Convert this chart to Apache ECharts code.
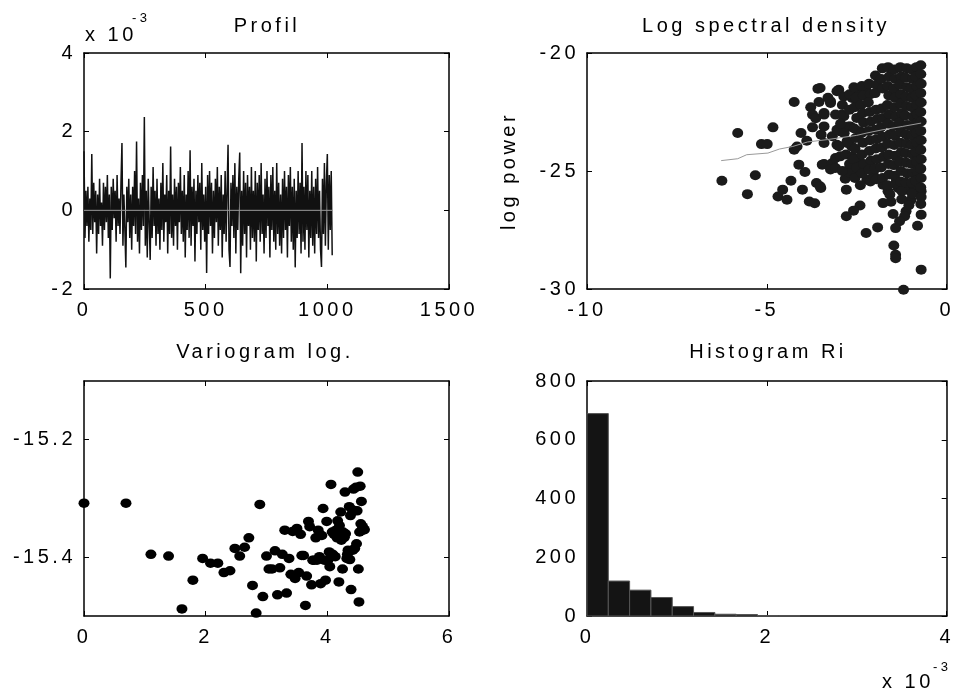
<!DOCTYPE html>
<html>
<head>
<meta charset="utf-8">
<script src="https://cdn.jsdelivr.net/npm/echarts@6/dist/echarts.min.js"></script>
<style>html,body{margin:0;padding:0;background:#fff}#c{width:957px;height:690px}</style>
</head>
<body>
<div id="c"></div>
<script>
// ---------- DATA ----------
// Profil (x10^-3), sampled every profileStep points
const profileStep = 4;
const profileMean = 0;
const profileValues = [
 1.5,-0.7,0.5,-0.4,0.6,-0.8,0.3,-0.5,1.43,-0.6,0.7,-0.3,0.5,-1.1,0.4,-0.6,
 0.8,-0.4,0.2,-0.9,0.7,-0.5,0.6,-0.3,0.9,-0.7,0.4,-1.73,0.6,-0.5,0.8,-0.2,
 0.5,-0.8,0.9,-0.4,0.3,-0.6,0.7,1.71,-0.9,0.4,-0.5,-1.45,0.6,-0.3,0.8,-0.7,
 0.4,-1.0,0.6,-0.4,1.0,-0.6,1.75,-0.8,0.3,-1.1,0.7,-0.5,0.9,-0.4,2.37,-0.9,
 0.5,-1.2,0.8,-0.3,-1.26,0.6,-0.7,1.1,-0.4,0.5,-0.9,0.8,-0.6,0.3,-1.0,0.7,
 -0.5,1.2,-0.8,0.4,-0.3,0.9,-1.1,0.5,-0.6,1.62,-0.7,0.4,-0.9,0.8,-0.4,0.6,
 -1.0,0.7,-0.3,1.1,-0.6,0.5,-0.8,0.9,-1.2,0.4,-0.5,1.0,-0.7,1.53,-0.9,0.6,
 -0.4,0.8,-1.3,0.5,-0.6,0.9,-0.3,0.7,-1.0,1.2,-0.5,0.4,-0.8,0.6,-1.59,0.9,
 -0.6,1.0,-0.4,0.7,-1.1,0.5,-0.7,0.8,-0.3,1.1,-0.9,0.6,-0.5,0.9,-1.2,0.4,
 -0.6,1.0,-0.8,0.5,1.67,-1.0,-1.44,0.7,-0.4,0.9,-0.7,1.2,-1.1,0.6,-0.5,0.8,
 1.47,-1.6,0.5,-0.9,1.0,-0.6,0.7,-1.2,0.9,-0.4,0.6,-1.0,1.1,-0.7,0.5,-0.8,
 1.0,-1.3,0.7,-0.5,0.9,-0.8,1.2,-0.6,0.4,-1.1,0.8,-0.7,1.0,-0.4,0.6,-1.2,
 0.9,-0.5,1.1,-0.8,0.5,-1.0,1.2,-0.6,0.7,-0.9,0.4,-1.1,0.8,-0.7,1.0,-0.5,
 0.6,-1.2,0.9,-0.4,1.1,-0.8,0.6,-1.0,0.8,-1.45,0.5,-0.7,1.0,-0.6,0.7,-1.1,
 1.71,-0.8,0.6,-1.0,1.0,-0.5,0.9,-1.2,0.5,-0.7,1.0,-0.9,0.6,-1.1,0.8,-0.6,
 1.1,-0.7,0.5,-1.0,-1.44,0.8,-0.6,1.2,-0.9,0.7,1.43,-1.0,0.9,-0.5,1.0,-1.14
];

// Log spectral density: [log frequency, log power]
const specPoints = [
 [-6.25,-25.41],[-5.81,-23.39],[-5.54,-25.98],[-5.32,-25.18],[-5.15,-23.86],[-4.99,-23.86],[-4.83,-23.15],
 [-4.69,-26.08],[-4.56,-25.79],[-4.44,-26.22],[-4.33,-25.41],[-4.24,-22.08],[-4.16,-23.96],[-4.24,-24.1],
 [-4.11,-24.73],[-4.05,-23.39],[-4.01,-25.79],[-3.94,-25.04],[-3.82,-26.29],[-3.67,-26.37],[-3.78,-22.3],
 [-3.73,-22.61],[-3.64,-22.76],[-3.73,-23.15],[-3.58,-21.51],[-3.62,-25.51],[-3.5,-25.72],[-3.55,-22.08],
 [-3.46,-24.73],[-3.49,-23.46],[-3.41,-23.81],[-3.41,-22.54],[-3.89,-23.72],
 [-3.52,-21.48],[-3.0,-21.56],[-3.23,-22.05],[-3.41,-22.61],[-2.91,-22.61],[-3.41,-23.11],[-3.18,-23.53],
 [-2.96,-23.32],[-2.68,-23.11],[-2.41,-23.32],[-3.05,-23.89],[-2.77,-23.74],[-2.64,-23.96],[-3.41,-24.7],
 [-3.18,-24.66],[-3.09,-24.45],[-3.23,-24.94],[-3.52,-25.65],[-2.77,-25.0],[-2.82,-25.33],[-2.64,-25.09],
 [-2.79,-25.79],[-2.45,-24.59],[-2.32,-24.73],[-2.22,-25.37],[-2.12,-25.44],[-2.03,-25.2],[-1.77,-25.58],
 [-1.63,-25.86],[-1.4,-25.44],[-1.35,-25.72],[-1.13,-25.79],[-0.71,-25.86],[-0.99,-26.22],[-1.77,-26.36],
 [-1.58,-26.0],[-2.41,-26.46],[-2.59,-26.68],[-2.79,-26.92],[-1.49,-26.82],[-1.13,-26.71],[-1.17,-26.92],
 [-0.71,-26.85],[-1.31,-27.13],[-1.42,-27.42],[-0.81,-27.32],[-2.24,-27.63],[-1.92,-27.39],[-1.47,-28.16],
 [-1.42,-28.55],[-1.42,-28.7],[-0.71,-29.18],[-1.2,-30.03],
 [-3.23,-22.12],[-3.05,-21.62],[-2.86,-21.84],[-2.63,-21.91],[-2.5,-21.98],[-3.09,-22.61],[-2.86,-22.68],
 [-2.73,-23.11],[-3.05,-23.25],[-2.77,-23.81],[-3.0,-23.95],[-2.96,-24.38],[-3.09,-24.87],[-2.68,-25.08],
 [-2.59,-24.66],[-2.45,-24.59],[-2.9,-22.2],[-2.7,-22.4],[-2.8,-24.3],[-2.62,-24.4],[-2.9,-25.0],
 [-2.45,-21.7],[-2.25,-21.5],[-2.7,-21.75],[-3.3,-21.9],[-2.95,-23.0],[-2.85,-23.4],[-2.7,-24.7],
 [-2.55,-25.3],[-2.4,-25.6],[-1.55,-26.3],[-1.25,-26.2],[-0.9,-25.8],[-1.05,-26.45],
 [-2.58,-21.45],[-2.52,-21.9],[-2.56,-22.3],[-2.5,-22.75],[-2.57,-23.2],[-2.53,-23.6],[-2.55,-24.05],[-2.6,-24.5],[-2.5,-24.85],
 [-2.36,-21.4],[-2.32,-21.8],[-2.38,-22.2],[-2.34,-22.55],[-2.31,-22.95],[-2.37,-23.4],[-2.33,-23.8],[-2.36,-24.3],[-2.3,-24.7],[-2.35,-25.1],
 [-2.16,-21.3],[-2.12,-21.75],[-2.18,-22.1],[-2.14,-22.5],[-2.11,-22.9],[-2.17,-23.3],[-2.13,-23.7],[-2.15,-24.15],[-2.1,-24.55],[-2.16,-24.95],
 [-1.98,-20.95],[-1.95,-21.35],[-1.99,-21.7],[-1.96,-22.4],[-1.93,-22.8],[-1.98,-23.25],[-1.95,-23.65],[-1.97,-24.05],[-1.94,-24.5],[-1.99,-24.9],[-1.96,-25.35],
 [-1.79,-20.65],[-1.82,-21.1],[-1.78,-21.5],[-1.81,-22.35],[-1.77,-22.75],[-1.83,-23.15],[-1.79,-23.55],[-1.8,-24.0],[-1.76,-24.4],[-1.82,-24.85],[-1.78,-25.3],
 [-1.63,-20.6],[-1.6,-21.0],[-1.64,-21.4],[-1.61,-21.8],[-1.65,-22.2],[-1.6,-22.6],[-1.63,-23.0],[-1.59,-23.45],[-1.64,-23.85],[-1.61,-24.3],[-1.62,-24.7],[-1.6,-25.15],[-1.65,-25.6],
 [-1.46,-20.7],[-1.43,-21.1],[-1.47,-21.5],[-1.44,-21.9],[-1.45,-22.3],[-1.42,-22.7],[-1.48,-23.1],[-1.44,-23.5],[-1.46,-23.9],[-1.43,-24.35],[-1.47,-24.75],[-1.45,-25.2],[-1.42,-25.55],
 [-1.29,-20.6],[-1.26,-21.0],[-1.3,-21.35],[-1.27,-21.75],[-1.28,-22.15],[-1.25,-22.55],[-1.31,-22.95],[-1.27,-23.35],[-1.29,-23.8],[-1.26,-24.2],[-1.3,-24.6],[-1.27,-25.0],[-1.28,-25.45],[-1.25,-25.85],
 [-1.11,-20.65],[-1.14,-21.05],[-1.1,-21.45],[-1.13,-21.85],[-1.12,-22.25],[-1.15,-22.65],[-1.1,-23.05],[-1.13,-23.45],[-1.11,-23.85],[-1.14,-24.25],[-1.12,-24.65],[-1.1,-25.1],[-1.13,-25.5],
 [-0.98,-20.7],[-0.95,-21.1],[-0.99,-21.5],[-0.96,-21.9],[-0.97,-22.3],[-0.94,-22.7],[-0.99,-23.1],[-0.96,-23.5],[-0.98,-23.9],[-0.95,-24.3],[-0.97,-24.7],[-0.94,-25.1],[-0.98,-25.5],[-0.96,-25.95],
 [-0.84,-20.6],[-0.86,-21.0],[-0.83,-21.4],[-0.85,-21.8],[-0.84,-22.2],[-0.82,-22.6],[-0.86,-23.0],[-0.84,-23.4],[-0.83,-23.8],[-0.85,-24.2],[-0.84,-24.6],[-0.82,-25.0],[-0.86,-25.4],
 [-0.72,-20.52],[-0.72,-20.9],[-0.71,-21.3],[-0.72,-21.7],[-0.71,-22.1],[-0.72,-22.5],[-0.71,-22.9],[-0.72,-23.3],[-0.71,-23.7],[-0.72,-24.1],[-0.71,-24.5],[-0.72,-24.9],[-0.71,-25.3],[-0.72,-25.7],[-0.71,-26.1],[-0.72,-26.4]
];
// Smoothed fit line
const specFit = [[-6.27,-24.56],[-5.81,-24.48],[-5.56,-24.31],[-4.97,-24.24],[-4.65,-24.07],[-4.28,-23.96],
 [-3.87,-23.77],[-3.32,-23.67],[-2.5,-23.49],[-2.22,-23.39],[-1.77,-23.25],[-1.22,-23.11],[-0.71,-22.97]];

// Variogram log.
const varX = [0,0.69,1.1,1.39,1.61,1.79,1.95,2.08,2.2,2.3,2.4,2.48,2.56,2.64,2.71,2.77,2.83,2.89,2.94,3.0,
 3.04,3.09,3.14,3.18,3.22,3.26,3.3,3.33,3.37,3.4,3.43,3.47,3.5,3.53,3.56,3.58,3.61,3.64,3.66,3.69,
 3.71,3.74,3.76,3.78,3.81,3.83,3.85,3.87,3.89,3.91,3.93,3.95,3.97,3.99,4.01,4.03,4.04,4.06,4.08,4.09,
 4.11,4.13,4.14,4.16,4.17,4.19,4.2,4.22,4.23,4.25,4.26,4.28,4.29,4.3,4.32,4.33,4.34,4.36,4.37,4.38,
 4.39,4.41,4.42,4.43,4.44,4.45,4.47,4.48,4.49,4.5,4.51,4.52,4.53,4.54,4.55,4.56,4.57,4.58,4.6,4.61];
const varY = [-15.308,-15.308,-15.395,-15.398,-15.488,-15.439,-15.402,-15.410,-15.410,-15.426,
 -15.423,-15.385,-15.398,-15.383,-15.367,-15.448,-15.495,-15.310,-15.467,-15.398,
 -15.420,-15.420,-15.389,-15.464,-15.418,-15.395,-15.354,-15.461,-15.402,-15.429,
 -15.356,-15.436,-15.351,-15.426,-15.361,-15.397,-15.397,-15.482,-15.432,-15.339,
 -15.348,-15.447,-15.405,-15.405,-15.367,-15.405,-15.354,-15.399,-15.445,-15.363,
 -15.317,-15.405,-15.439,-15.339,-15.405,-15.391,-15.416,-15.276,-15.357,-15.395,
 -15.361,-15.399,-15.354,-15.367,-15.338,-15.442,-15.346,-15.323,-15.371,-15.420,
 -15.357,-15.366,-15.289,-15.360,-15.402,-15.395,-15.388,-15.314,-15.404,-15.329,
 -15.455,-15.319,-15.388,-15.284,-15.321,-15.385,-15.281,-15.377,-15.321,-15.255,
 -15.420,-15.476,-15.357,-15.279,-15.343,-15.305,-15.354,-15.348,-15.353,-15.353];

// Histogram Ri (x10^-3)
const histEdges = [0,0.237,0.474,0.711,0.948,1.185,1.422,1.659,1.896,2.133,2.37];
const histCounts = [689,119,88,63,32,12,6,5,1,1];

// ---------- letter spacing (text look of the reference) ----------
(function(){
  const P = CanvasRenderingContext2D.prototype;
  if (!('letterSpacing' in P)) return;
  const LS = '3.5px';
  const ft = P.fillText, st = P.strokeText, mt = P.measureText;
  P.fillText = function(){ this.letterSpacing = LS; return ft.apply(this, arguments); };
  P.strokeText = function(){ this.letterSpacing = LS; return st.apply(this, arguments); };
  P.measureText = function(){ this.letterSpacing = LS; return mt.apply(this, arguments); };
})();

// ---------- CHART ----------
const FONT = '"Liberation Sans", Arial, sans-serif';
const chart = echarts.init(document.getElementById('c'), null, {renderer:'canvas'});

const grids = [
  {left:84, top:53, width:365, height:236},
  {left:587, top:53, width:364, height:236},
  {left:84, top:381, width:365, height:235},
  {left:587, top:381, width:364, height:235}
];
const axCfg = [
  {x:[0,1500,500], y:[-2,4,2]},
  {x:[-10,0,5], y:[-30,-20,5]},
  {x:[0,6,2], y:[-15.5,-15.1,null,[-15.4,-15.2]]},
  {x:[0,4,2], y:[0,800,200]}
];
const line = {show:true, onZero:false, lineStyle:{color:'#000', width:1.5}};
const tick = {show:true, inside:true, length:5, lineStyle:{color:'#000', width:1}};
const lab = {color:'#000', fontSize:20, fontFamily:FONT, formatter:v => String(v)};
const xAxes = [], yAxes = [];
axCfg.forEach((c, g) => {
  [['bottom',true],['top',false]].forEach(([pos, showLab]) => {
    xAxes.push({type:'value', gridIndex:g, position:pos, min:c.x[0], max:c.x[1], interval:c.x[2],
      axisLine:line, axisTick:tick, splitLine:{show:false},
      axisLabel:Object.assign({show:showLab, margin:10}, lab)});
  });
  [['left',true],['right',false]].forEach(([pos, showLab]) => {
    const ax = {type:'value', gridIndex:g, position:pos, min:c.y[0], max:c.y[1],
      axisLine:line, axisTick:Object.assign({}, tick), splitLine:{show:false},
      axisLabel:Object.assign({show:showLab, margin:8}, lab)};
    if (c.y[2] != null) ax.interval = c.y[2];
    if (c.y[3]) { ax.axisTick.customValues = c.y[3]; ax.axisLabel.customValues = c.y[3]; }
    if (g === 1 && pos === 'left') {
      ax.name = 'log power'; ax.nameLocation = 'middle'; ax.nameGap = 66;
      ax.nameTextStyle = {color:'#000', fontSize:20, fontFamily:FONT};
    }
    yAxes.push(ax);
  });
});

const titleStyle = {color:'#000', fontSize:20, fontWeight:'normal', fontFamily:FONT};
const titles = [
  {text:'Profil', x:267, y:15},
  {text:'Log spectral density', x:766, y:15},
  {text:'Variogram log.', x:265, y:341},
  {text:'Histogram Ri', x:768, y:341}
].map(t => ({text:t.text, left:t.x, top:t.y, textAlign:'center', padding:0, textStyle:titleStyle}));

const lastX = (profileValues.length - 1) * profileStep;

chart.setOption({
  animation:false,
  backgroundColor:'#fff',
  title:titles,
  grid:grids,
  xAxis:xAxes,
  yAxis:yAxes,
  graphic:[
    {type:'text', left:85, top:24, style:{text:'x 10', fill:'#000', font:'20px '+FONT}},
    {type:'text', left:132, top:10, style:{text:'-3', fill:'#000', font:'13px '+FONT}},
    {type:'text', left:882, top:671, style:{text:'x 10', fill:'#000', font:'20px '+FONT}},
    {type:'text', left:933, top:659, style:{text:'-3', fill:'#000', font:'13px '+FONT}}
  ],
  series:[
    {type:'line', xAxisIndex:0, yAxisIndex:0, showSymbol:false, silent:true,
     data:profileValues.map((v,i)=>[i*profileStep, v]),
     lineStyle:{color:'#111', width:1.5}},
    {type:'line', xAxisIndex:0, yAxisIndex:0, showSymbol:false, silent:true, z:3,
     data:[[0,profileMean],[lastX,profileMean]],
     lineStyle:{color:'#9a9a9a', width:1}},
    {type:'scatter', xAxisIndex:2, yAxisIndex:2, clip:false, symbol:'circle', symbolSize:[11,10],
     data:specPoints, itemStyle:{color:'#1b1b1b', opacity:1}},
    {type:'line', xAxisIndex:2, yAxisIndex:2, showSymbol:false, z:4, data:specFit,
     lineStyle:{color:'#9a9a9a', width:1}},
    {type:'scatter', xAxisIndex:4, yAxisIndex:4, clip:false, symbol:'circle', symbolSize:[11,9.5],
     data:varX.map((x,i)=>[x, varY[i]]), itemStyle:{color:'#000', opacity:1}},
    {type:'custom', xAxisIndex:6, yAxisIndex:6,
     data:histCounts.map((c,i)=>[histEdges[i], histEdges[i+1], c]),
     encode:{x:[0,1], y:2},
     renderItem:function(params, api){
       const p0 = api.coord([api.value(0), api.value(2)]);
       const p1 = api.coord([api.value(1), 0]);
       return {type:'rect', shape:{x:p0[0], y:p0[1], width:p1[0]-p0[0], height:p1[1]-p0[1]},
         style:{fill:'#141414', stroke:'#555', lineWidth:1}};
     }}
  ]
});
</script>
</body>
</html>
